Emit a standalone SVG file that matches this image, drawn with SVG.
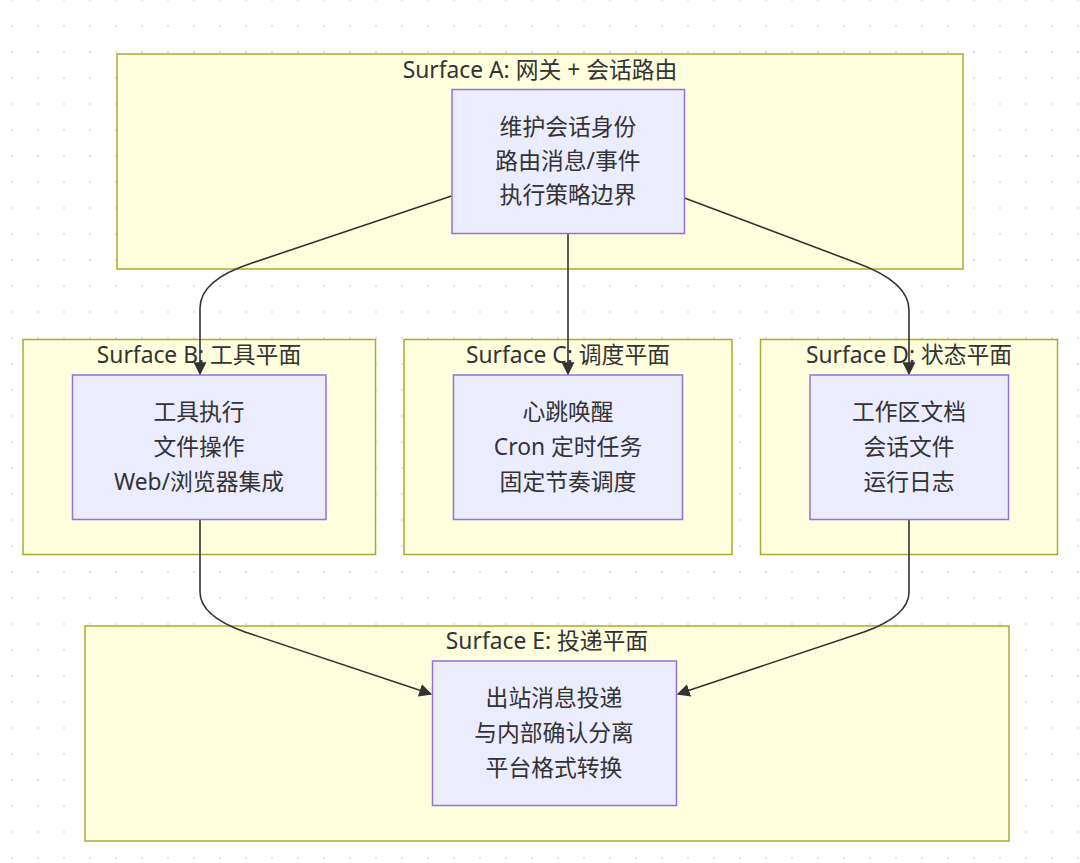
<svg xmlns="http://www.w3.org/2000/svg" width="1080" height="863" viewBox="0 0 1080 863">
<defs>
<pattern id="grid" x="12" y="0" width="26" height="26" patternUnits="userSpaceOnUse">
<circle cx="0" cy="0" r="1.1" fill="#dcdcdc"/>
<circle cx="26" cy="0" r="1.1" fill="#dcdcdc"/>
<circle cx="0" cy="26" r="1.1" fill="#dcdcdc"/>
<circle cx="26" cy="26" r="1.1" fill="#dcdcdc"/>
</pattern>
<marker id="arrow" viewBox="0 0 10 10" refX="9" refY="5" markerWidth="13" markerHeight="13" markerUnits="userSpaceOnUse" orient="auto">
<path d="M0,0 L10,5 L0,10 z" fill="#333333"/>
</marker>
<style>
.cluster{fill:#ffffde;stroke:#aaaa33;stroke-width:1.5}
.node{fill:#ececff;stroke:#9370db;stroke-width:1.5}
.t{font-family:"Noto Sans","Noto Sans CJK SC",sans-serif;font-size:22.8px;fill:#333333;text-anchor:middle;dominant-baseline:central}
.edge{fill:none;stroke:#333333;stroke-width:1.6}
</style>
</defs>
<rect width="1080" height="863" fill="#ffffff"/>
<rect width="1080" height="863" fill="url(#grid)"/>

<g id="clusterA"><rect class="cluster" x="117" y="54" width="846" height="215"/><text class="t" x="540" y="69">Surface A: 网关 + 会话路由</text></g>
<g id="clusterB"><rect class="cluster" x="23" y="339.5" width="352.5" height="215"/><text class="t" x="199" y="354">Surface B: 工具平面</text></g>
<g id="clusterC"><rect class="cluster" x="404" y="339.5" width="328" height="215"/><text class="t" x="568" y="354">Surface C: 调度平面</text></g>
<g id="clusterD"><rect class="cluster" x="760.5" y="339.5" width="297" height="215"/><text class="t" x="909" y="354">Surface D: 状态平面</text></g>
<g id="clusterE"><rect class="cluster" x="85" y="626" width="924" height="215"/><text class="t" x="547" y="640">Surface E: 投递平面</text></g>

<g id="connectors">
<path class="edge" d="M451.5,196 L252,263 Q200,280 200,308 L200,374" marker-end="url(#arrow)"/>
<path class="edge" d="M568,233.5 L568,374" marker-end="url(#arrow)"/>
<path class="edge" d="M684.5,198 L857,263 Q909,282 909,310 L909,374" marker-end="url(#arrow)"/>
<path class="edge" d="M200,519.5 L200,592 Q200,616 245,632 L431,694" marker-end="url(#arrow)"/>
<path class="edge" d="M909,519.5 L909,592 Q909,616 864,632 L678,694" marker-end="url(#arrow)"/>
</g>

<g id="nodeA"><rect class="node" x="452" y="89.5" width="232.5" height="144"/>
<text class="t" x="568" y="126">维护会话身份</text><text class="t" x="568" y="160">路由消息/事件</text><text class="t" x="568" y="194">执行策略边界</text></g>
<g id="nodeB"><rect class="node" x="72.5" y="375" width="253.5" height="144.5"/>
<text class="t" x="199" y="411">工具执行</text><text class="t" x="199" y="446">文件操作</text><text class="t" x="199" y="481">Web/浏览器集成</text></g>
<g id="nodeC"><rect class="node" x="453.5" y="375" width="229" height="144.5"/>
<text class="t" x="568" y="411">心跳唤醒</text><text class="t" x="568" y="446">Cron 定时任务</text><text class="t" x="568" y="481">固定节奏调度</text></g>
<g id="nodeD"><rect class="node" x="810" y="375" width="198.5" height="144.5"/>
<text class="t" x="909" y="411">工作区文档</text><text class="t" x="909" y="446">会话文件</text><text class="t" x="909" y="481">运行日志</text></g>
<g id="nodeE"><rect class="node" x="432.5" y="661" width="244" height="144.5"/>
<text class="t" x="554" y="697">出站消息投递</text><text class="t" x="554" y="732">与内部确认分离</text><text class="t" x="554" y="767">平台格式转换</text></g>
</svg>
